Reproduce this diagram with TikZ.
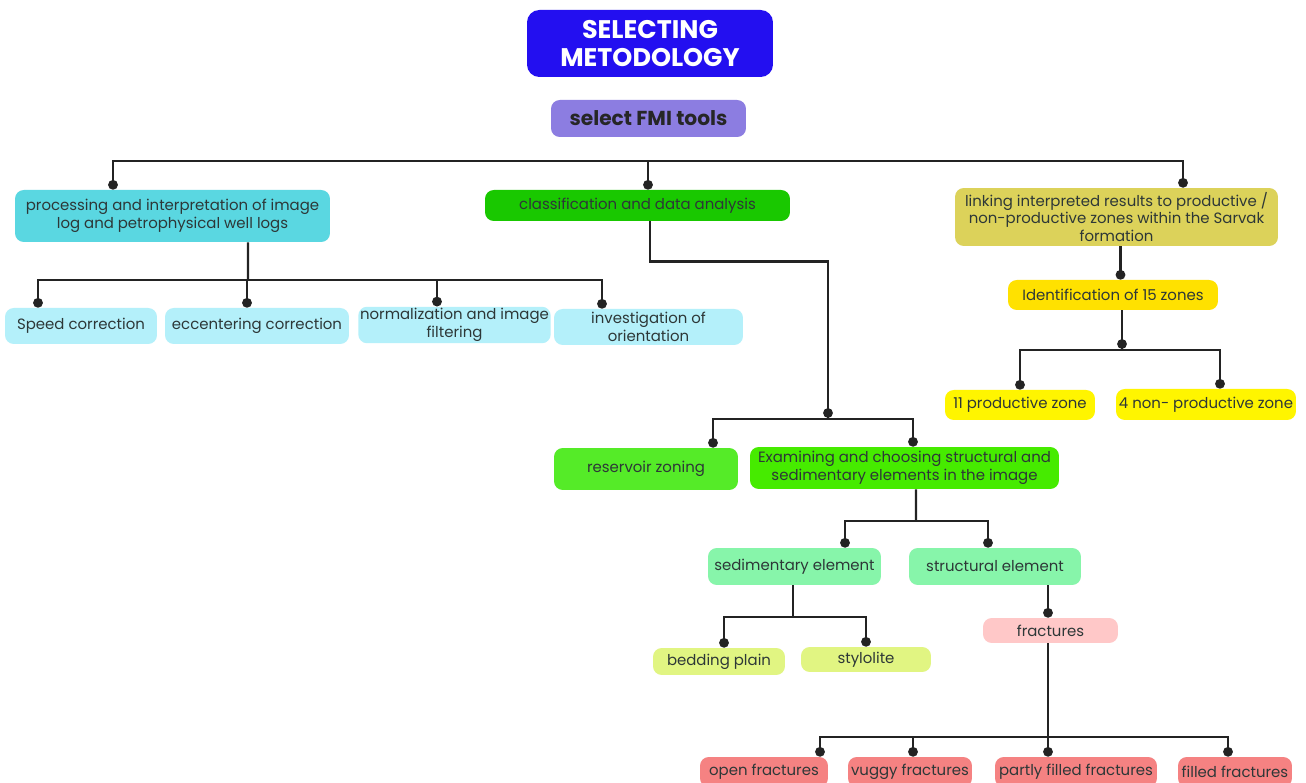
\documentclass[tikz,border=0pt]{standalone}
\usepackage{fontspec}
\setmainfont{Poppins}
\usepackage{tikz}
\usetikzlibrary{arrows.meta,calc}
\definecolor{headblue}{RGB}{35,15,240}
\definecolor{toolviolet}{RGB}{140,125,225}
\definecolor{proccyan}{RGB}{90,215,225}
\definecolor{stepcyan}{RGB}{180,240,250}
\definecolor{classgreen}{RGB}{25,200,0}
\definecolor{linkolive}{RGB}{220,210,90}
\definecolor{zoneyellow}{RGB}{255,225,0}
\definecolor{prodyellow}{RGB}{255,245,0}
\definecolor{resgreen}{RGB}{85,235,40}
\definecolor{examgreen}{RGB}{70,235,0}
\definecolor{elemmint}{RGB}{135,245,170}
\definecolor{sedlime}{RGB}{225,245,130}
\definecolor{fracpink}{RGB}{255,200,200}
\definecolor{fracred}{RGB}{245,130,130}
\definecolor{textgray}{RGB}{45,55,55}
\definecolor{wiregray}{RGB}{35,35,35}
\tikzset{
  box/.style={
    rectangle,
    rounded corners=5pt,
    draw=none,
    align=center,
    inner sep=1pt,
    text=textgray,
    font=\fontsize{8.5}{10}\selectfont
  },
  headbox/.style={
    box,
    fill=headblue,
    rounded corners=7pt,
    text=white,
    font=\fontsize{14.5}{16}\selectfont\bfseries
  },
  toolbox/.style={
    box,
    fill=toolviolet,
    text=black!85,
    font=\fontsize{11.5}{13}\selectfont\bfseries
  },
  wire/.style={
    line width=1.4pt,
    draw=wiregray
  },
  dotwire/.style={
    wire,
    -{Circle[length=5.5pt]}
  }
}

\begin{document}
\begin{tikzpicture}[x=0.02cm,y=-0.02cm]
  \clip (0,0) rectangle (1306,783);
  \fill[white] (0,0) rectangle (1306,783);

  % heading
  \node[headbox, minimum width=4.92cm, minimum height=1.34cm] (head) at (650,43.5) {SELECTING\\METODOLOGY};
  \node[toolbox, minimum width=3.9cm, minimum height=0.74cm] (tools) at (648.5,118.5) {select FMI tools};

  % main branches
  \node[box, fill=proccyan, minimum width=6.3cm, minimum height=1.04cm] (proc) at (172.5,216) {processing and interpretation of image\\log and petrophysical well logs};
  \node[box, fill=classgreen, minimum width=6.1cm, minimum height=0.62cm] (class) at (637.5,205.5) {classification and data analysis};
  \node[box, fill=linkolive, minimum width=6.46cm, minimum height=1.16cm] (link) at (1116.5,217) {linking interpreted results to productive /\\non-productive zones within the Sarvak\\formation};
  \coordinate (topbus) at (648,161);
  \draw[dotwire] (topbus) -| ($(proc.north)+(-59.5,0)$);
  \draw[dotwire] (topbus) -| ($(class.north)+(10.5,0)$);
  \draw[dotwire] (topbus) -| ($(link.north)+(66.5,0)$);

  % processing steps
  \node[box, fill=stepcyan, minimum width=3.04cm, minimum height=0.72cm] (speed) at (81,326) {Speed correction};
  \node[box, fill=stepcyan, minimum width=3.68cm, minimum height=0.72cm] (ecc) at (257,326) {eccentering correction};
  \node[box, fill=stepcyan, minimum width=3.74cm, minimum height=0.72cm] (norm) at (454.5,325) {normalization and image\\filtering};
  \node[box, fill=stepcyan, minimum width=3.78cm, minimum height=0.72cm] (orient) at (648.5,327) {investigation of\\orientation};
  \coordinate (procbus) at (248,280);
  \draw[wire] ($(proc.south)+(75.5,0)$) -- (procbus);
  \draw[dotwire] (procbus) -| ($(speed.north)+(-43,0)$);
  \draw[dotwire] (procbus) -| ($(ecc.north)+(-10,0)$);
  \draw[dotwire] (procbus) -| ($(norm.north)+(-17.5,0)$);
  \draw[dotwire] (procbus) -| ($(orient.north)+(-46.5,0)$);

  % zones
  \node[box, fill=zoneyellow, minimum width=4.2cm, minimum height=0.6cm] (ident) at (1113,295) {Identification of 15 zones};
  \node[box, fill=prodyellow, minimum width=3cm, minimum height=0.6cm] (prod) at (1020,405) {11 productive zone};
  \node[box, fill=prodyellow, minimum width=3.6cm, minimum height=0.62cm] (nonprod) at (1206,404.5) {4 non- productive zone};
  \draw[dotwire] ($(link.south)+(4,0)$) -- ($(ident.north)+(7.5,0)$);
  \coordinate (identbus) at (1122,350);
  \draw[wire] ($(ident.south)+(9,0)$) -- (identbus);
  \fill[wiregray] ($(identbus)+(0,-6)$) circle (2.8pt);
  \draw[dotwire] (identbus) -| (prod.north);
  \draw[dotwire] (identbus) -| ($(nonprod.north)+(14,0)$);

  % classification
  \node[box, fill=resgreen, minimum width=3.68cm, minimum height=0.84cm] (reszone) at (646,469) {reservoir zoning};
  \node[box, fill=examgreen, minimum width=6.18cm, minimum height=0.84cm] (exam) at (904.5,468) {Examining and choosing structural and\\sedimentary elements in the image};
  \coordinate (classbus) at (828,419);
  \draw[wire] ($(class.south)+(12.5,0)$) -- ++(0,40) -| (classbus);
  \fill[wiregray] ($(classbus)+(0,-6)$) circle (2.8pt);
  \draw[dotwire] (classbus) -| ($(reszone.north)+(67,0)$);
  \draw[dotwire] (classbus) -| ($(exam.north)+(8.5,0)$);

  % elements
  \node[box, fill=elemmint, minimum width=3.46cm, minimum height=0.74cm] (sed) at (794.5,566.5) {sedimentary element};
  \node[box, fill=elemmint, minimum width=3.44cm, minimum height=0.74cm] (struct) at (995,566.5) {structural element};
  \coordinate (exambus) at (916,521);
  \draw[wire] ($(exam.south)+(11.5,0)$) -- (exambus);
  \draw[dotwire] (exambus) -| ($(sed.north)+(50.5,0)$);
  \draw[dotwire] (exambus) -| ($(struct.north)+(-7,0)$);

  % sedimentary
  \node[box, fill=sedlime, minimum width=2.64cm, minimum height=0.54cm] (bed) at (719,661.5) {bedding plain};
  \node[box, fill=sedlime, minimum width=2.6cm, minimum height=0.5cm] (stylo) at (866,659.5) {stylolite};
  \coordinate (sedbus) at (793,617);
  \draw[wire] ($(sed.south)+(-1.5,0)$) -- (sedbus);
  \draw[dotwire] (sedbus) -| ($(bed.north)+(5,0)$);
  \draw[dotwire] (sedbus) -| (stylo.north);

  % structural
  \node[box, fill=fracpink, minimum width=2.7cm, minimum height=0.5cm] (frac) at (1050.5,630.5) {fractures};
  \draw[dotwire] ($(struct.south)+(53,0)$) -- ($(frac.north)+(-2.5,0)$);
  \node[box, fill=fracred, minimum width=2.56cm, minimum height=0.6cm] (open) at (764,772) {open fractures};
  \node[box, fill=fracred, minimum width=2.48cm, minimum height=0.6cm] (vuggy) at (910,772) {vuggy fractures};
  \node[box, fill=fracred, minimum width=3.24cm, minimum height=0.6cm] (partly) at (1076,772) {partly filled fractures};
  \node[box, fill=fracred, minimum width=2.28cm, minimum height=0.6cm] (filled) at (1235,772) {filled fractures};
  \coordinate (fracbus) at (1048,737);
  \draw[wire] ($(frac.south)+(-2.5,0)$) -- (fracbus);
  \draw[dotwire] (fracbus) -| ($(open.north)+(56,0)$);
  \draw[dotwire] (fracbus) -| ($(vuggy.north)+(3,0)$);
  \draw[dotwire] (fracbus) -| ($(partly.north)+(-28,0)$);
  \draw[dotwire] (fracbus) -| ($(filled.north)+(-7,0)$);

\end{tikzpicture}
\end{document}
